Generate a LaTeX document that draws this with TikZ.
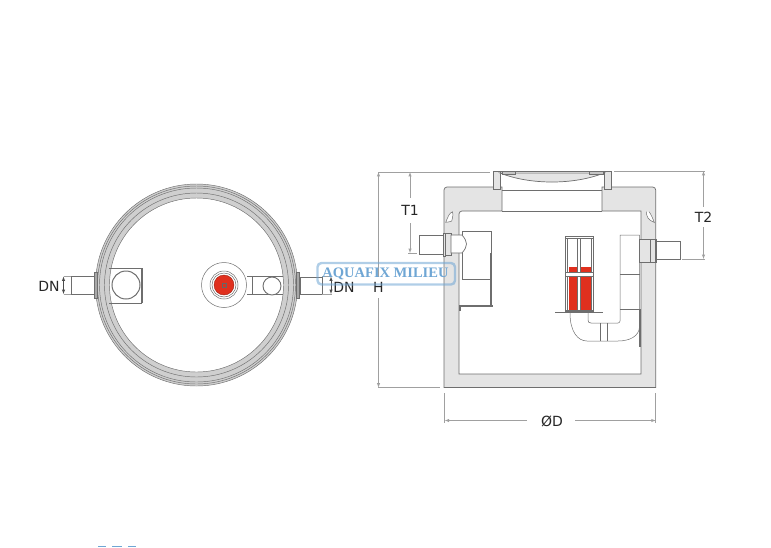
\documentclass[tikz,border=0pt]{standalone}
\usepackage{fontspec}
\setmainfont{DejaVu Sans}
\newfontfamily\logofont{Liberation Serif}
\usetikzlibrary{arrows, calc, positioning}
\tikzset{>=latex}
\definecolor{wallgrey}{HTML}{E4E4E4}
\definecolor{ringgrey}{HTML}{CFCFCF}
\definecolor{edgegrey}{HTML}{6E6E6E}
\definecolor{dimgrey}{HTML}{A0A0A0}
\definecolor{pumpred}{HTML}{E0301E}
\definecolor{logoblue}{HTML}{6FA6D4}
\tikzset{part/.style = {draw=edgegrey, line width=0.7pt}}
\tikzset{heavy/.style = {draw=edgegrey, line width=1.5pt}}
\tikzset{thin part/.style = {draw=edgegrey, line width=0.5pt}}
\tikzset{dimline/.style = {draw=dimgrey, line width=0.5pt}}
\tikzset{dimarrow/.style = {dimline, draw=black!70, <->}}
\tikzset{label/.style = {font=\fontsize{14}{14}\selectfont, text=black!85, inner sep=0pt}}
\begin{document}
\begin{tikzpicture}[x=1pt, y=-1pt]
  \useasboundingbox (0,0) rectangle (771,547);
  % plan view
  \coordinate (c) at (196.5,285);
  \coordinate (p) at (224,285);
  \fill[ringgrey, even odd rule] (c) circle (101) (c) circle (87);
  \foreach \r in {101,99,97,92,87}
  {
    \draw[thin part, line width=0.45pt] (c) circle (\r);
  }
  \draw[part, fill=white] (71,276) rectangle (94,294);
  \draw[part, fill=edgegrey!60] (94,272) rectangle (97,298);
  \draw[part] (142,268) -- (109,268) (142,303) -- (109,303);
  \draw[heavy] (142,268) -- (142,303);
  \draw[part, line width=1pt] (126,285) circle (14);
  \draw[part] (247,276) -- (283,276) (247,294) -- (283,294) (252,276) -- (252,294);
  \draw[part, line width=0.9pt, fill=white] (272,286) circle (9);
  \draw[part, fill=white] (300,277) rectangle (322,294);
  \draw[part, fill=edgegrey!60] (296,272) rectangle (299,298);
  \draw[thin part, fill=white] (p) circle (22.5);
  \foreach \r in {14,12}
  {
    \draw[thin part] (p) circle (\r);
  }
  \draw[fill=pumpred, draw=pumpred!70!black, line width=0.4pt] (p) circle (10);
  \draw[draw=black!60, line width=0.4pt] ($(p)+(-2,-2)$) rectangle ($(p)+(2,2)$);
  % section, walls
  \draw[part, fill=wallgrey] (444,190) arc (180:270:3) -- (502,187) -- (502,211)
    -- (462,211) arc (270:180:3) -- (459,374) -- (641,374) -- (641,211) -- (602,211)
    -- (602,187) -- (652.7,187) arc (270:360:3) -- (655.7,387.5) -- (444,387.5) -- cycle;
  \draw[part] (502,190) -- (602,190) (502,211) -- (602,211);
  \draw[thin part, fill=white] (452.7,211.7) .. controls (449,213) and (448,217) .. (445.7,222.3)
    .. controls (448,222) and (450,222) .. (451.7,221) .. controls (453,217) and (453,214) .. (452.7,211.7);
  \draw[thin part, fill=white] (646.7,211.7) .. controls (646,216) and (648,220) .. (654.3,222.5)
    .. controls (653,219) and (651,214) .. (649,211.7);
  % section, cover
  \draw[part, fill=wallgrey] (493,171) rectangle (500,189);
  \draw[part, fill=wallgrey] (604,171) rectangle (611,189);
  \draw[part] (493,171) -- (611,171);
  \draw[part, fill=wallgrey] (500,173) .. controls (530,185) and (574,185) .. (604,173) -- cycle;
  \draw[part, fill=edgegrey!40] (502,171) rectangle (515,174);
  \draw[part, fill=edgegrey!40] (589,171) rectangle (603,174);
  % section, inlet
  \draw[part, fill=white] (419,235) rectangle (443.5,254);
  \draw[part, fill=wallgrey] (443.5,233) rectangle (445.5,256);
  \draw[part, fill=wallgrey] (445.5,233) rectangle (451,255);
  \draw[part, fill=white] (451,235) -- (462,235) .. controls (468,242) and (468,246) .. (462,253) -- (451,253) -- cycle;
  \draw[part, fill=white] (462,253) -- (462,279) -- (491,279) -- (491,253);
  \draw[part, line width=1pt] (462,235) -- (462,231) -- (491,231) -- (491,253);
  \draw[heavy] (491,253) -- (491,306);
  \draw[heavy] (460,306) -- (493,306);
  \draw[heavy] (460,305) -- (460,311);
  % section, outlet
  \draw[part, fill=white] (656,241) rectangle (680,259);
  \draw[part, fill=wallgrey] (639,239) rectangle (656,262);
  \draw[part] (650,239) -- (650,262);
  \draw[heavy, line width=1pt] (655,239) -- (655,262);
  % section, riser and elbow
  \draw[thin part] (639.5,235) -- (620,235) -- (620,321) .. controls (620,322) and (619,323) .. (618,323)
    -- (591,323) .. controls (589,323) and (588,322) .. (588,320) -- (588,313);
  \draw[thin part] (639.5,235) -- (639.5,327) .. controls (639,336) and (630,341) .. (618,341) -- (587,341)
    .. controls (578,341) and (570,332) .. (570,313);
  \foreach \y in {274,309}
  {
    \draw[thin part] (620,\y) -- (639.5,\y);
  }
  \draw[thin part] (600,323) -- (600,341) (607,323) -- (607,341);
  \draw[heavy, line width=1.2pt] (640,309) -- (640,347);
  % section, pump
  \fill[pumpred] (568.5,267) rectangle (591.5,310);
  \draw[black!70, line width=0.7pt] (578.5,263) -- (578.5,268);
  \draw[thin part, fill=white] (577,237) rectangle (580,311);
  \foreach \x in {565.5,591.5}
  {
    \draw[thin part, fill=white] (\x,237) rectangle ++(2,74);
  }
  \foreach \y/\h in {236/2, 272/4, 310/1.5}
  {
    \draw[thin part, fill=white] (565,\y) rectangle ++(28.5,\h);
  }
  \fill[edgegrey] (555,311.5) rectangle (603,313);
  % dimensions
  \path (49,286) node[label] (dnl) {DN}
    (344,287) node[label] (dnr) {DN}
    (378.5,287) node[label] (h) {H}
    (410,210) node[label] (t1) {T1}
    (703.5,217) node[label] (t2) {T2}
    (552,421) node[label] (d) {ØD};
  \foreach \a/\b in {64/71, 322/332}
  {
    \draw[dimline] (\a,276.5) -- (\b,276.5) (\a,294) -- (\b,294);
  }
  \draw[dimarrow] (63.5,276.5) -- (63.5,294);
  \draw[dimarrow] (331,276.5) -- (331,294);
  \draw[dimline] (378,172) -- (490,172) (614,171) -- (705,171) (378,387.5) -- (440,387.5);
  \draw[dimline] (408,253) -- (417,253) (682,259) -- (705,259);
  \draw[dimline] (444.7,393) -- (444.7,423) (655.7,393) -- (655.7,423);
  \draw[dimline, <-] (378.5,172) -- (378.5,277);
  \draw[dimline, ->] (378.5,298) -- (378.5,387.5);
  \draw[dimline, <-] (410,172) -- (410,198);
  \draw[dimline, ->] (410,223) -- (410,253);
  \draw[dimline, <-] (703.5,171) -- (703.5,207);
  \draw[dimline, ->] (703.5,227) -- (703.5,259);
  \draw[dimline, <-] (444.7,420.5) -- (527,420.5);
  \draw[dimline, ->] (575,420.5) -- (655.7,420.5);
  % watermark
  \draw[logoblue, opacity=0.55, line width=2.4pt, rounded corners=4pt] (317.5,263) rectangle (455,284.5);
  \node[font=\logofont\bfseries\fontsize{14.5}{14.5}\selectfont, text=logoblue, inner sep=0pt] (logo) at (385.5,274) {AQUAFIX MILIEU};
  \foreach \a/\b in {98/106, 112/122, 128/136}
  {
    \fill[logoblue] (\a,545.5) rectangle (\b,547);
  }
\end{tikzpicture}
\end{document}
